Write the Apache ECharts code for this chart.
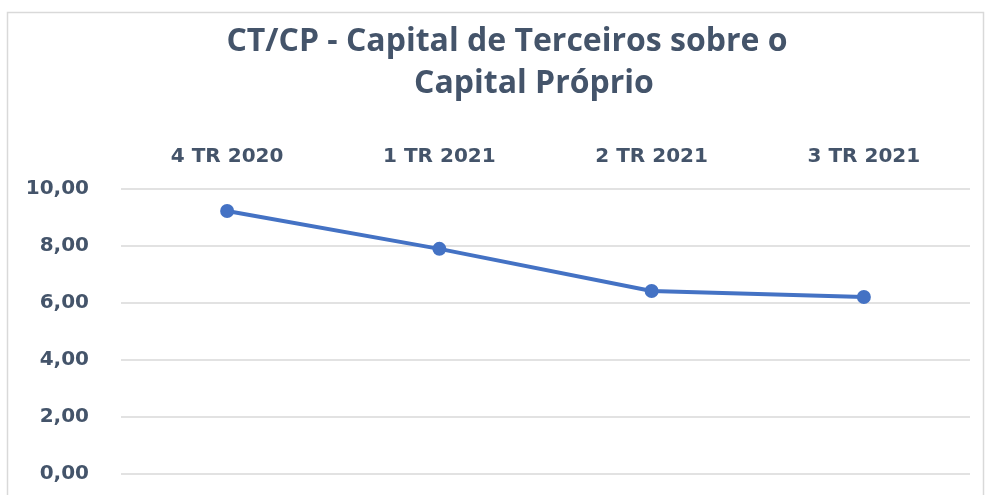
<!DOCTYPE html>
<html>
<head>
    <meta charset="utf-8" />
    <title>CT/CP</title>
    <script src="https://cdn.jsdelivr.net/npm/echarts@6/dist/echarts.min.js"></script>
    <style>
        html, body { margin: 0; padding: 0; background: #fff; }
    </style>
</head>
<body>
    <div id="chart" style="width:986px;height:495px;"></div>
    <script>
        // dados
        var periodos = ['4 TR 2020', '1 TR 2021', '2 TR 2021', '3 TR 2021'];
        var ctcp = [9.23, 7.9, 6.42, 6.21];
        var eixoY = [0, 2, 4, 6, 8, 10];

        var corTexto = '#44546a';
        var fonteEixo = 'DejaVu Sans';
        var fonteTitulo = 'Open Sans';
        var myChart = echarts.init(document.getElementById('chart'));
        var option = {
            animation: false,
            graphic: [{
                type: 'rect',
                shape: { x: 7.5, y: 12.5, width: 976, height: 500 },
                style: { fill: 'none', stroke: '#d9d9d9', lineWidth: 1.5 }
            }],
            title: [{
                text: 'CT/CP - Capital de Terceiros sobre o',
                left: 502, top: 21, textAlign: 'center',
                textStyle: { fontSize: 32, fontWeight: 'bold', color: corTexto, fontFamily: fonteTitulo }
            }, {
                text: 'Capital Próprio',
                left: 529, top: 63, textAlign: 'center',
                textStyle: { fontSize: 32, fontWeight: 'bold', color: corTexto, fontFamily: fonteTitulo }
            }],
            grid: { left: 121, right: 16, top: 189, bottom: 21, containLabel: false },
            xAxis: {
                type: 'category',
                position: 'top',
                data: periodos,
                boundaryGap: true,
                axisLine: { show: false },
                axisTick: { show: false },
                axisLabel: { fontSize: 20, fontWeight: 'bold', color: corTexto, fontFamily: fonteEixo, margin: 22 }
            },
            yAxis: {
                type: 'value',
                min: eixoY[0],
                max: eixoY[eixoY.length - 1],
                interval: 2,
                axisLine: { show: false },
                axisTick: { show: false },
                splitLine: { lineStyle: { color: '#d9d9d9', width: 1.5 } },
                axisLabel: {
                    fontSize: 20, fontWeight: 'bold', color: corTexto, fontFamily: fonteEixo, margin: 32,
                    formatter: function (v) { return v.toFixed(2).replace('.', ','); }
                }
            },
            series: [{
                name: 'CT/CP',
                type: 'line',
                data: ctcp,
                symbol: 'circle',
                symbolSize: 14,
                lineStyle: { color: '#4472c4', width: 4 },
                itemStyle: { color: '#4472c4' }
            }]
        };
        myChart.setOption(option);
    </script>
</body>
</html>
